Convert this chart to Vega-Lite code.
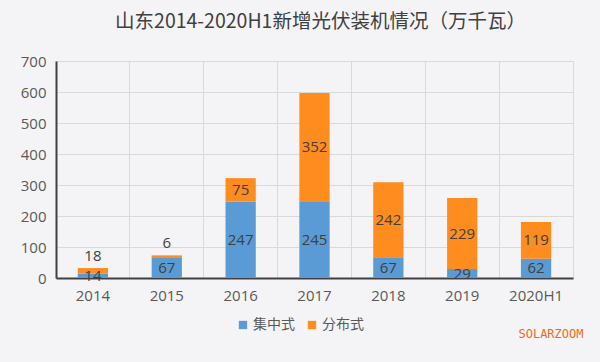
{
  "$schema": "https://vega.github.io/schema/vega-lite/v6.json",
  "width": 517,
  "height": 217,
  "autosize": {"type": "none"},
  "padding": {"left": 56, "top": 61, "right": 27, "bottom": 84},
  "background": "#f4f4f6",
  "title": {
    "text": "山东2014-2020H1新增光伏装机情况（万千瓦）",
    "font": "Noto Sans CJK SC",
    "fontSize": 19.5,
    "fontWeight": "normal",
    "color": "#404040",
    "anchor": "middle",
    "dx": 6,
    "offset": 22
  },
  "config": {
    "view": {"stroke": "#d9d9d9", "strokeWidth": 1},
    "font": "Open Sans",
    "axisY": {
      "title": null,
      "values": [0, 100, 200, 300, 400, 500, 600, 700],
      "labelFontSize": 15,
      "labelColor": "#595959",
      "labelPadding": 10,
      "labelOverlap": false,
      "ticks": false,
      "grid": true,
      "gridColor": "#d9d9d9",
      "domainColor": "#404040",
      "domainWidth": 2
    }
  },
  "data": {
    "values": [
      {"year": "2014", "type": "集中式", "value": 14},
      {"year": "2014", "type": "分布式", "value": 18},
      {"year": "2015", "type": "集中式", "value": 67},
      {"year": "2015", "type": "分布式", "value": 6},
      {"year": "2016", "type": "集中式", "value": 247},
      {"year": "2016", "type": "分布式", "value": 75},
      {"year": "2017", "type": "集中式", "value": 245},
      {"year": "2017", "type": "分布式", "value": 352},
      {"year": "2018", "type": "集中式", "value": 67},
      {"year": "2018", "type": "分布式", "value": 242},
      {"year": "2019", "type": "集中式", "value": 29},
      {"year": "2019", "type": "分布式", "value": 229},
      {"year": "2020H1", "type": "集中式", "value": 62},
      {"year": "2020H1", "type": "分布式", "value": 119}
    ]
  },
  "transform": [
    {"stack": "value", "groupby": ["year"], "sort": [{"field": "type", "order": "descending"}], "as": ["y0", "y1"]},
    {"calculate": "datum.type == '分布式' && datum.value < 25 ? datum.y1 + 40 : (datum.y0 + datum.y1) / 2", "as": "labelY"}
  ],
  "encoding": {
    "x": {
      "field": "year",
      "type": "nominal",
      "sort": null,
      "scale": {"paddingInner": 0, "paddingOuter": 0},
      "axis": {
        "title": "SOLARZOOM",
        "titleFont": "DejaVu Sans Mono",
        "titleFontSize": 12,
        "titleFontWeight": "normal",
        "titleColor": "#F26B1D",
        "titleAnchor": "end",
        "titleAlign": "right",
        "titleBaseline": "middle",
        "titleX": 527,
        "titleY": 55,
        "labelAngle": 0,
        "labelFontSize": 15,
        "labelColor": "#595959",
        "labelPadding": 10,
        "labelAlign": "center",
        "bandPosition": 0,
        "ticks": false,
        "grid": true,
        "gridColor": "#d9d9d9",
        "domainColor": "#404040",
        "domainWidth": 2
      }
    }
  },
  "layer": [
    {
      "mark": {"type": "bar", "width": {"band": 0.41}},
      "encoding": {
        "y": {
          "field": "y0",
          "type": "quantitative",
          "scale": {"domain": [0, 700]}
        },
        "y2": {"field": "y1"},
        "color": {
          "field": "type",
          "type": "nominal",
          "scale": {"domain": ["集中式", "分布式"], "range": ["#5B9BD5", "#FF8C1F"]},
          "legend": {
            "title": null,
            "orient": "none",
            "legendX": 180,
            "legendY": 257,
            "direction": "horizontal",
            "symbolType": "square",
            "symbolSize": 70,
            "symbolStrokeWidth": 0,
            "labelFont": "Noto Sans CJK SC",
            "labelFontSize": 14,
            "labelColor": "#595959",
            "labelOffset": 3,
            "columnPadding": 10
          }
        }
      }
    },
    {
      "mark": {"type": "text", "fontSize": 15, "color": "#404040", "baseline": "middle"},
      "encoding": {
        "y": {"field": "labelY", "type": "quantitative"},
        "text": {"field": "value", "type": "quantitative"}
      }
    }
  ]
}
